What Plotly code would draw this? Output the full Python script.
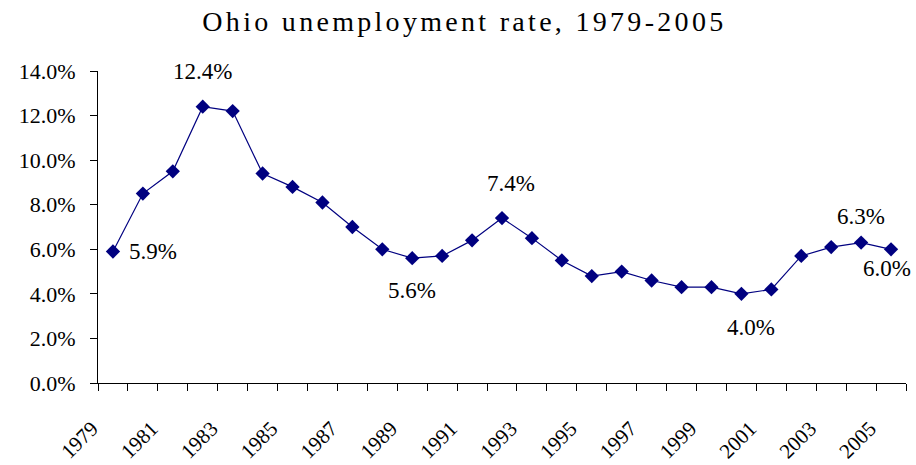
import plotly.graph_objects as go

years = list(range(1979, 2006))
rates = [5.9, 8.5, 9.5, 12.4, 12.2, 9.4, 8.8, 8.1, 7.0, 6.0,
         5.6, 5.7, 6.4, 7.4, 6.5, 5.5, 4.8, 5.0, 4.6, 4.3,
         4.3, 4.0, 4.2, 5.7, 6.1, 6.3, 6.0]
label_years = [1979, 1982, 1989, 1992, 2000, 2004, 2005]
tick_years = list(range(1979, 2006, 2))
y_ticks = [0, 2, 4, 6, 8, 10, 12, 14]

# pixel offsets for data labels (style only)
label_offsets = {
    1979: (40, 0),
    1982: (0, 35),
    1989: (0, -32),
    1992: (9, 35),
    2000: (10, -34),
    2004: (0, 26),
    2005: (-4, -19),
}

SERIF = "Times New Roman, Liberation Serif, DejaVu Serif, serif"
NAVY = "#000080"

fig = go.Figure()
fig.add_trace(go.Scatter(
    x=years, y=rates, mode="lines+markers",
    line=dict(color=NAVY, width=1.2),
    marker=dict(symbol="diamond", size=11, color=NAVY),
    hoverinfo="x+y",
))

annotations = []
for yr in label_years:
    v = rates[years.index(yr)]
    dx, dy = label_offsets[yr]
    annotations.append(dict(
        x=yr, y=v, xref="x", yref="y", text=f"{v:.1f}%", showarrow=False,
        xshift=dx, yshift=dy, font=dict(family=SERIF, size=23, color="black"),
    ))

fig.update_layout(
    width=916, height=465,
    margin=dict(l=98, r=10, t=71, b=82, autoexpand=False),
    paper_bgcolor="white", plot_bgcolor="white",
    showlegend=False,
    font=dict(family=SERIF, color="black"),
    title=dict(text="Ohio unemployment rate, 1979-2005", x=0.507, xanchor="center",
               y=1 - 21 / 465, yanchor="middle", yref="container",
               font=dict(family=SERIF, size=28, color="black")),
    annotations=annotations,
    xaxis=dict(
        range=[1978.5, 2005.5], tickmode="array", tickvals=tick_years,
        ticktext=[str(t) for t in tick_years], ticks="", tickangle=-45,
        ticklabelshift=-21, ticklabelstandoff=24, automargin=False,
        tickfont=dict(family=SERIF, size=21, color="black"),
        showline=True, linecolor="black", linewidth=1, showgrid=False, zeroline=False,
        minor=dict(tickmode="linear", tick0=1978.5, dtick=1, ticks="outside",
                   ticklen=7, tickcolor="black", tickwidth=1, showgrid=False),
    ),
    yaxis=dict(
        range=[0, 14], tickmode="array", tickvals=y_ticks,
        ticktext=[f"{t:.1f}%" for t in y_ticks],
        ticks="outside", ticklen=7, tickcolor="black", tickwidth=1,
        ticklabelstandoff=10, automargin=False,
        tickfont=dict(family=SERIF, size=22, color="black"),
        showline=True, linecolor="black", linewidth=1, showgrid=False, zeroline=False,
    ),
)

fig.write_html("out.html", config={"displayModeBar": False}, post_script=(
    "document.body.style.margin='0';"
    "document.querySelectorAll('.gtitle').forEach(function(e){e.style.letterSpacing='3.3px';});"
))
